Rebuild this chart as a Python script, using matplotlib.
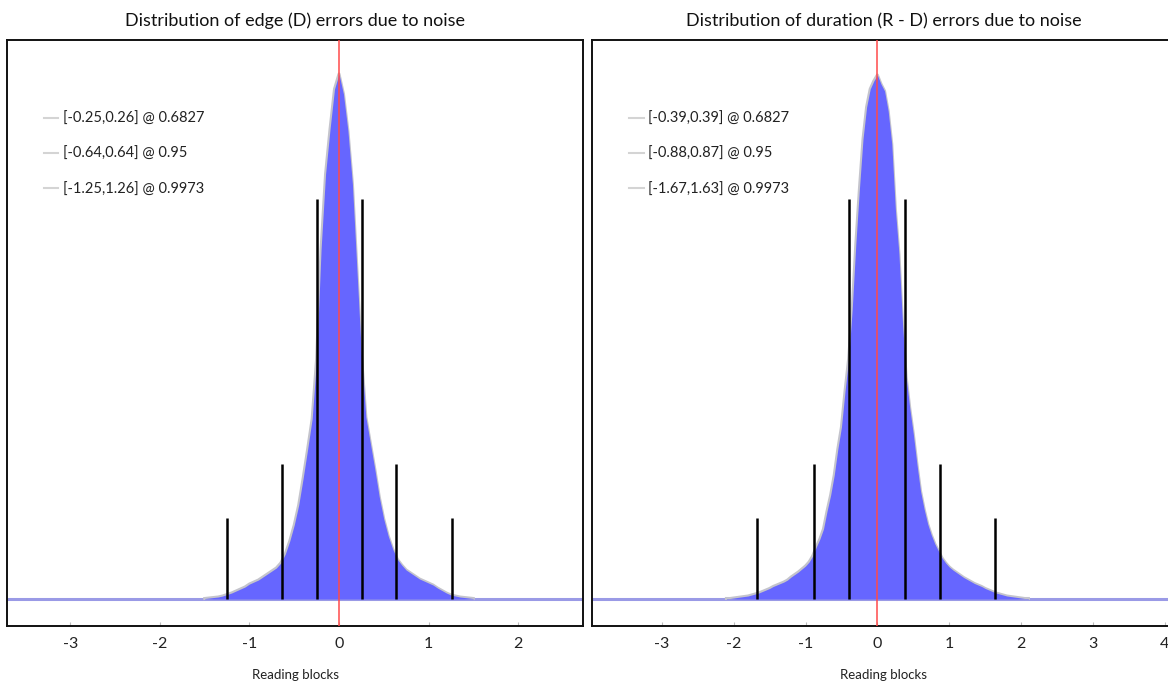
import numpy as np
import matplotlib
matplotlib.use("Agg")
import matplotlib.pyplot as plt
from matplotlib.lines import Line2D

plt.rcParams['font.family'] = ['Lato', 'DejaVu Sans']

# ---------------- data ----------------
edge_x = [round(-1.50 + 0.05 * i, 2) for i in range(61)]
edge_counts = [0.5, 1, 1.5, 2, 3, 4.5, 6, 8, 10, 12,
               15, 17, 19, 22, 25, 28, 31, 36, 45, 58,
               74, 94, 121, 150, 180, 240, 350, 425, 470, 510,
               525,
               505, 468, 415, 330, 245, 182, 156, 130, 102, 80,
               63, 50, 40, 34, 29, 26, 23, 20, 18, 16,
               14, 11, 8.5, 6, 4, 3, 2, 1.5, 1, 0.5]

dur_x = [round(-2.10 + 0.05 * i, 2) for i in range(85)]
dur_counts = [0.5, 0.5, 1, 1.5, 2, 2.5, 3, 4, 5, 6,
              7.5, 9, 10.5, 12.5, 14, 15.5, 17, 19, 22, 24.5,
              27, 30, 33, 37, 43, 52, 60, 70, 88, 104,
              124, 150, 172, 208, 240, 290, 355, 410, 460, 492,
              510, 518,
              524,
              515, 508, 488, 455, 390, 345, 275, 222, 191, 165,
              135, 108, 90, 75, 64, 55, 48, 41, 36, 32,
              29, 26.5, 24, 21.5, 19.5, 17.5, 15.5, 14, 12.5, 10.5,
              9, 7.5, 6, 5, 4, 3, 2.5, 2, 1.5, 1, 0.5, 0.5]

edge_intervals = [(-0.25, 0.26), (-0.64, 0.64), (-1.25, 1.26)]
dur_intervals = [(-0.39, 0.39), (-0.88, 0.87), (-1.67, 1.63)]
levels = ["0.6827", "0.95", "0.9973"]
marker_heights = [400, 135, 81]

titles = ["Distribution of edge (D) errors due to noise",
          "Distribution of duration (R - D) errors due to noise"]
xlabel = "Reading blocks"

# ---------------- styling ----------------
W, H = 1168, 687
fig = plt.figure(figsize=(W / 100, H / 100), dpi=100)
fig.patch.set_facecolor("white")

FILL = "#6666ff"
FRINGE = "#c4c4cc"
BASE = "#9a9ae6"

panels = [
    dict(rect=[7 / W, (H - 626) / H, 576 / W, 586 / H], xlim=(-3.709, 2.726),
         x=edge_x, y=edge_counts, iv=edge_intervals, ticks=[-3, -2, -1, 0, 1, 2]),
    dict(rect=[592 / W, (H - 626) / H, 583 / W, 586 / H], xlim=(-3.97, 4.14),
         x=dur_x, y=dur_counts, iv=dur_intervals, ticks=[-3, -2, -1, 0, 1, 2, 3, 4]),
]

for p, title in zip(panels, titles):
    ax = fig.add_axes(p["rect"])
    ax.set_xlim(*p["xlim"])
    ax.set_ylim(-27, 559)
    ax.axhline(0, color=BASE, lw=2.2, zorder=1)
    ax.plot(p["x"], p["y"], color=FRINGE, lw=2.2, zorder=2)
    ax.fill_between(p["x"], 0, p["y"], color=FILL, lw=0, zorder=3)
    for (lo, hi), h in zip(p["iv"], marker_heights):
        ax.vlines([lo, hi], 0, h, color="black", lw=1.8, zorder=4)
    ax.axvline(0, color="#ff4a4a", lw=1.1, zorder=5)

    handles = [Line2D([], [], color="#d4d4d4", lw=1.5) for _ in levels]
    labels = [f"[{lo:.2f},{hi:.2f}] @ {lv}" for (lo, hi), lv in zip(p["iv"], levels)]
    ax.legend(handles, labels, loc="upper left", frameon=False,
              bbox_to_anchor=(0.064, 0.877), borderaxespad=0, borderpad=0,
              handlelength=1.0, handletextpad=0.3,
              labelspacing=1.45, fontsize=10.5, labelcolor="#222222")

    ax.set_yticks([])
    ax.set_xticks(p["ticks"])
    ax.set_xticklabels([str(t) for t in p["ticks"]])
    ax.tick_params(axis="x", direction="in", length=3, width=0.8, color="#bbbbbb",
                   labelsize=11.5, labelcolor="#222222", pad=8)
    for s in ax.spines.values():
        s.set_linewidth(1.4)
        s.set_color("#111111")
    ax.set_xlabel(xlabel, fontsize=9.5, color="#222222", labelpad=13)
    ax.set_title(title, fontsize=13, color="#111111", pad=10)

fig.savefig("out.png", dpi=100)
